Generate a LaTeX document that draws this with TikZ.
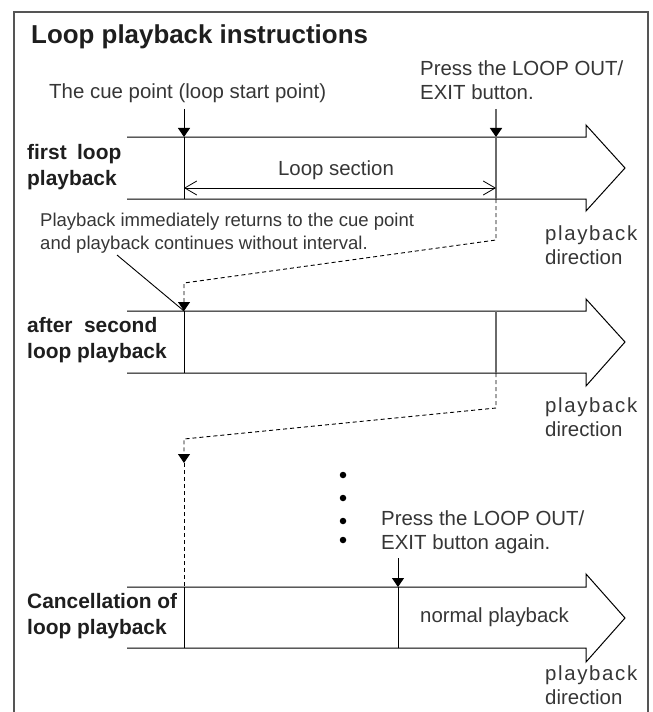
\documentclass[tikz,border=0pt]{standalone}
\usepackage{fontspec}
\setmainfont{Liberation Sans}
\usetikzlibrary{arrows.meta}
\definecolor{txt}{HTML}{363636}
\definecolor{btxt}{HTML}{1E1E1E}
\definecolor{frm}{HTML}{555555}
\definecolor{mk}{HTML}{6A6A6A}
\begin{document}
\begin{tikzpicture}[x=1bp,y=-1bp,
  lbl/.style={font=\fontsize{20.5}{24.5}\selectfont, text=txt, inner sep=0pt, anchor=west, align=left},
  slbl/.style={font=\fontsize{18.6}{23}\selectfont, text=txt, inner sep=0pt, anchor=west, align=left},
  blbl/.style={font=\fontsize{21}{26}\selectfont\bfseries, text=btxt, inner sep=0pt, anchor=west, align=left},
  dirlbl/.style={font=\fontsize{20.5}{24}\selectfont, text=txt, inner sep=0pt, anchor=west, align=left},
  bigarrow/.style={draw=black, line width=1bp, line join=miter},
  marker/.style={line width=1bp, -{Triangle[width=12bp,length=9bp]}},
  graymarker/.style={line width=1.6bp, mk, -{Triangle[width=12bp,length=9bp,color=black]}},
  cueline/.style={line width=1bp, black},
  outline/.style={line width=1.6bp, mk},
  dashline/.style={line width=0.9bp, dash pattern=on 4bp off 3bp},
  dashmarker/.style={dashline, -{Triangle[width=12bp,length=9bp]}},
  span/.style={line width=0.8bp, {Straight Barb[length=12bp,width=14bp]}-{Straight Barb[length=12bp,width=14bp]}},
  leader/.style={line width=0.9bp},
  dot/.style={circle, fill=black, inner sep=0pt, minimum size=6.5bp}
]
\useasboundingbox (0,0) rectangle (653,712);
% frame
\draw[frm, line width=1.5bp] (14,712) -- (14,12) -- (648,12) -- (648,712);

% title
\node[font=\fontsize{26}{30}\selectfont\bfseries, text=btxt, inner sep=0pt, anchor=west] (title) at (31,37) {Loop playback instructions};

% big arrows
\draw[bigarrow] (127,137) -- (586,137) -- (586,125) -- (625,168) -- (586,211) -- (586,199) -- (127,199);
\draw[bigarrow] (127,311) -- (586,311) -- (586,299) -- (625,342) -- (586,386) -- (586,373) -- (127,373);
\draw[bigarrow] (127,587) -- (586,587) -- (586,574) -- (625,618) -- (586,662) -- (586,648) -- (127,648);

% coordinates
\coordinate (cueTop) at (184,109);
\coordinate (cueA) at (184,137);
\coordinate (cueAb) at (184,199);
\coordinate (outTop) at (496,109);
\coordinate (outA) at (496,137);
\coordinate (outAb) at (496,199);
\coordinate (spanL) at (184,188);
\coordinate (spanR) at (496,188);
\coordinate (d1a) at (496,240);
\coordinate (d1b) at (184,283);
\coordinate (cueB) at (184,311);
\coordinate (cueBb) at (184,373);
\coordinate (outB) at (496,311);
\coordinate (outBb) at (496,373);
\coordinate (d2a) at (496,408);
\coordinate (d2b) at (184,439);
\coordinate (d2tip) at (184,463);
\coordinate (cueC) at (184,587);
\coordinate (cueCb) at (184,648);
\coordinate (exTop) at (398,558);
\coordinate (exC) at (398,587);
\coordinate (exCb) at (398,648);
\coordinate (leadStart) at (117,255);

% texts
\node[lbl] (cuetext) at (49,93) {The cue point (loop start point)};
\node[lbl] (presstext) at (420,80) {Press the LOOP OUT/\\EXIT button.};
\node[blbl] (first) at (27,167) {first\hspace{0.5em}loop\\playback};
\node[lbl, anchor=center] (section) at (336,170) {Loop section};
\node[slbl] (returns) at (40,233.5) {Playback immediately returns to the cue point\\and playback continues without interval.};
\node[blbl] (second) at (27,340) {after\hspace{0.55em}second\\loop playback};
\node[blbl] (cancel) at (27,616) {Cancellation of\\loop playback};
\node[lbl] (pressagain) at (381,532.5) {Press the LOOP OUT/\\EXIT button again.};
\node[lbl] (normal) at (420,617) {normal playback};
\node[dirlbl] (dirA) at (545,245) {\addfontfeature{LetterSpace=8}playback\\direction};
\node[dirlbl] (dirB) at (545,417.5) {\addfontfeature{LetterSpace=8}playback\\direction};
\node[dirlbl] (dirC) at (545,685) {\addfontfeature{LetterSpace=8}playback\\direction};

% markers and lines, first loop
\draw[marker] (cueTop) -- (cueA);
\draw[cueline] (cueA) -- (cueAb);
\draw[graymarker] (outTop) -- (outA);
\draw[outline] (outA) -- (outAb);
\draw[span] (spanL) -- (spanR);

% return path 1
\draw[dashmarker] (outAb) -- (d1a) -- (d1b) -- (cueB);
\draw[leader] (leadStart) -- (cueB);

% second loop
\draw[cueline] (cueB) -- (cueBb);
\draw[outline] (outB) -- (outBb);

% return path 2
\draw[dashmarker] (outBb) -- (d2a) -- (d2b) -- (d2tip);
\draw[dashline] (d2tip) -- (cueC);

% dots
\node[dot] (dot1) at (343,475) {};
\node[dot] (dot2) at (343,498) {};
\node[dot] (dot3) at (343,521) {};
\node[dot] (dot4) at (343,540) {};

% cancellation
\draw[marker] (exTop) -- (exC);
\draw[cueline] (cueC) -- (cueCb);
\draw[cueline] (exC) -- (exCb);
\end{tikzpicture}
\end{document}
